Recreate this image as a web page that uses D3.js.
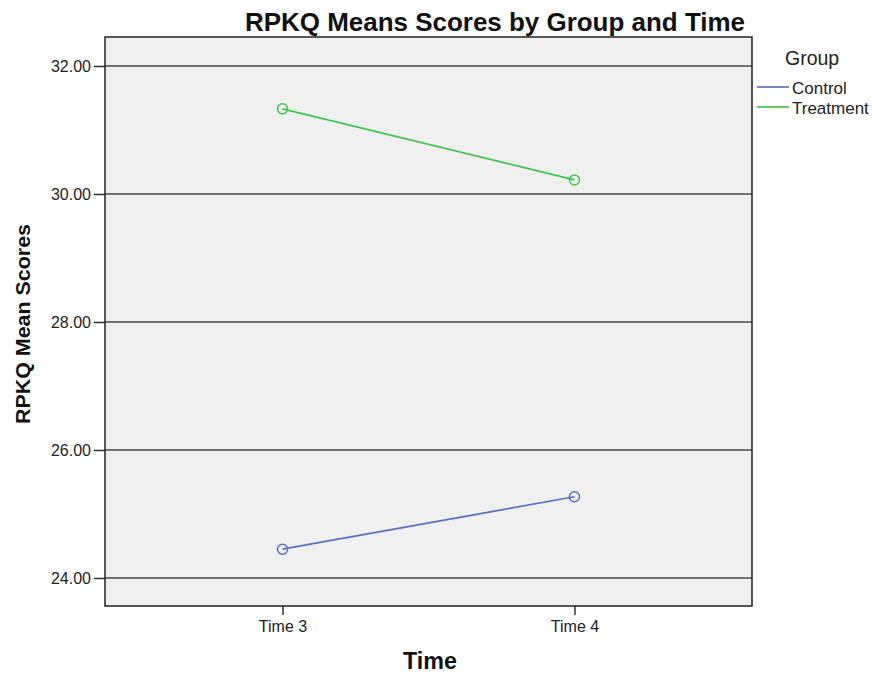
<!DOCTYPE html>
<html><head><meta charset="utf-8">
<script src="https://cdn.jsdelivr.net/npm/d3@7/dist/d3.min.js"></script>
<style>body{margin:0;background:#fff}svg{display:block}text{font-family:"Liberation Sans",Arial,sans-serif}</style>
</head><body>
<svg id="c" width="872" height="675"></svg>
<script>
const times = ["Time 3", "Time 4"];
const groups = ["Control", "Treatment"];
const controlValues = [24.45, 25.27];
const treatmentValues = [31.33, 30.22];
const yTicks = [24, 26, 28, 30, 32];
const colors = {Control: "#5a6fc4", Treatment: "#3fc64b"};

const series = [
  {name: "Control", values: controlValues},
  {name: "Treatment", values: treatmentValues}
];

const svg = d3.select("#c");
const L = 105, R = 752, T = 37, B = 606;
const x = d3.scalePoint().domain(times).range([L, R]).padding(0.608);
const y = d3.scaleLinear().domain([23.5625, 32.453]).range([B, T]);

svg.append("rect").attr("x", L).attr("y", T).attr("width", R - L).attr("height", B - T)
  .attr("fill", "#f0f0f0");

// grid
svg.append("g").selectAll("line").data(yTicks).join("line")
  .attr("x1", L).attr("x2", R).attr("y1", d => y(d)).attr("y2", d => y(d))
  .attr("stroke", "#4a4a4a").attr("stroke-width", 1.6);

// axes
const yAxis = svg.append("g").attr("transform", `translate(${L},0)`)
  .call(d3.axisLeft(y).tickValues(yTicks).tickFormat(d3.format(".2f")).tickSize(11).tickPadding(3));
const xAxis = svg.append("g").attr("transform", `translate(0,${B})`)
  .call(d3.axisBottom(x).tickSize(9).tickPadding(6));
[yAxis, xAxis].forEach(a => {
  a.attr("font-size", 16).attr("font-family", '"Liberation Sans",Arial,sans-serif');
  a.select(".domain").remove();
  a.selectAll(".tick line").attr("stroke", "#333").attr("stroke-width", 1.5);
  a.selectAll(".tick text").attr("font-size", 16).attr("fill", "#222");
});
yAxis.selectAll(".tick text").attr("dy", "0.36em");

svg.append("rect").attr("x", L).attr("y", T).attr("width", R - L).attr("height", B - T)
  .attr("fill", "none").attr("stroke", "#222").attr("stroke-width", 1.5);

// lines
const line = d3.line().x((d, i) => x(times[i])).y(d => y(d));
series.forEach(s => {
  svg.append("path").datum(s.values).attr("d", line).attr("fill", "none")
    .attr("stroke", colors[s.name]).attr("stroke-width", 1.7);
  svg.append("g").selectAll("circle").data(s.values).join("circle")
    .attr("cx", (d, i) => x(times[i])).attr("cy", d => y(d)).attr("r", 5)
    .attr("fill", "none").attr("stroke", colors[s.name]).attr("stroke-width", 1.5);
});

// titles
svg.append("text").attr("x", 495).attr("y", 31).attr("text-anchor", "middle")
  .attr("font-size", 25).attr("font-weight", "bold").attr("fill", "#111")
  .attr("textLength", 500).attr("lengthAdjust", "spacingAndGlyphs")
  .text("RPKQ Means Scores by Group and Time");
svg.append("text").attr("transform", "translate(30,324) rotate(-90)").attr("text-anchor", "middle")
  .attr("font-size", 21).attr("font-weight", "bold").attr("fill", "#111")
  .attr("textLength", 200).attr("lengthAdjust", "spacingAndGlyphs").text("RPKQ Mean Scores");
svg.append("text").attr("x", 430).attr("y", 669).attr("text-anchor", "middle")
  .attr("font-size", 23).attr("font-weight", "bold").attr("fill", "#111")
  .attr("textLength", 54).attr("lengthAdjust", "spacingAndGlyphs").text("Time");

// legend
svg.append("text").attr("x", 785).attr("y", 65).attr("font-size", 19.5).attr("fill", "#222").text("Group");
groups.forEach((g, i) => {
  const yy = 87 + i * 20;
  svg.append("line").attr("x1", 757).attr("x2", 789).attr("y1", yy).attr("y2", yy)
    .attr("stroke", colors[g]).attr("stroke-width", 1.7);
  svg.append("text").attr("x", 792).attr("y", yy + 7).attr("font-size", 17).attr("fill", "#222").text(g);
});
</script>
</body></html>
